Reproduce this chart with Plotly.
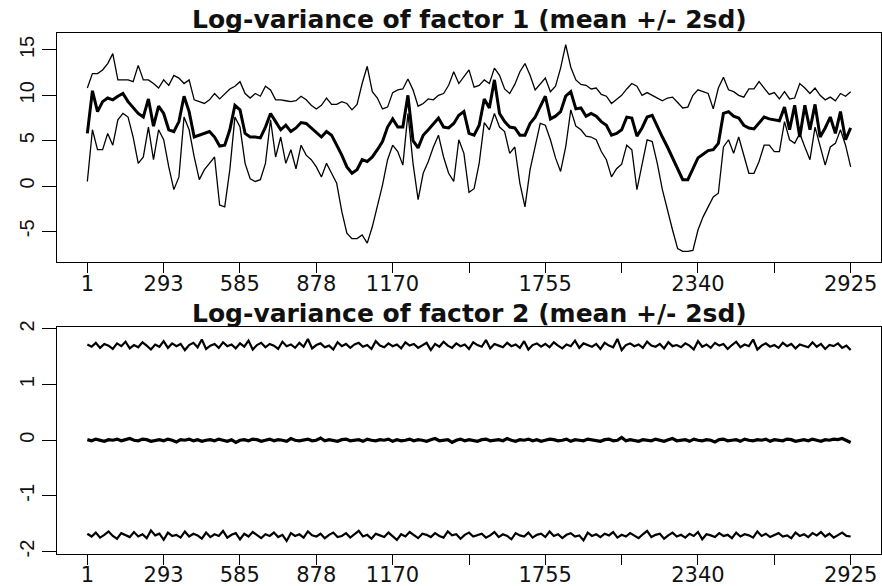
import numpy as np
import plotly.graph_objects as go

# ---------------- data ----------------
f1_upper = [10.8, 12.4, 12.4, 12.8, 13.5, 14.6, 11.7, 11.7, 11.7, 11.5,
            13.3, 11.7, 11.7, 11.3, 10.8, 11.7, 11.1, 12.2, 11.9, 11.3,
            11.7, 9.5, 9.3, 9.1, 9.5, 10.2, 9.6, 10.2, 10.7, 11.0,
            11.5, 10.2, 9.7, 10.2, 9.9, 11.0, 10.6, 9.5, 9.5, 9.4,
            9.3, 9.4, 9.9, 9.5, 8.9, 8.5, 8.9, 9.7, 9.0, 9.0,
            9.3, 9.1, 8.4, 9.0, 11.3, 13.2, 10.4, 9.7, 8.5, 8.7,
            10.3, 10.6, 10.7, 11.8, 10.6, 8.8, 9.1, 9.6, 9.5, 10.0,
            10.2, 11.1, 12.6, 11.3, 12.0, 12.8, 10.9, 11.1, 11.7, 11.3,
            13.0, 12.2, 10.7, 10.2, 11.2, 12.6, 13.5, 12.2, 10.6, 11.3,
            11.9, 10.4, 11.0, 13.0, 15.6, 13.1, 11.7, 11.2, 11.1, 10.7,
            10.8, 10.1, 9.9, 9.1, 9.6, 10.0, 10.7, 11.3, 11.0, 10.0,
            10.3, 10.0, 9.7, 9.4, 9.7, 9.8, 9.2, 8.6, 8.7, 10.0,
            10.6, 10.4, 10.2, 8.5, 10.8, 12.0, 10.6, 10.4, 10.0, 9.8,
            10.7, 10.7, 11.5, 10.8, 10.1, 10.3, 9.6, 10.4, 9.6, 9.7,
            11.3, 10.8, 10.2, 10.8, 10.0, 9.5, 9.8, 9.4, 10.2, 9.9,
            10.4]

f1_mean = [5.8, 10.5, 8.2, 9.3, 9.7, 9.5, 9.9, 10.2, 9.3, 8.7,
           8.0, 7.6, 9.6, 6.6, 8.8, 8.0, 6.2, 6.0, 7.1, 9.9,
           8.2, 5.4, 5.6, 5.8, 6.0, 5.4, 4.4, 4.5, 6.2, 8.9,
           8.4, 5.8, 5.4, 5.4, 5.3, 6.5, 8.0, 7.1, 6.2, 6.7,
           6.0, 6.4, 7.0, 6.9, 6.4, 5.8, 5.4, 6.0, 5.6, 4.5,
           3.4, 2.1, 1.4, 1.8, 2.9, 2.7, 3.2, 4.0, 4.9, 6.5,
           7.4, 6.5, 6.5, 10.0, 5.0, 4.2, 5.6, 6.2, 6.9, 7.5,
           6.5, 6.4, 6.9, 7.8, 8.2, 5.8, 5.6, 6.7, 9.6, 8.6,
           11.7, 8.0, 7.1, 6.5, 6.4, 5.6, 5.6, 6.9, 7.6, 8.7,
           9.9, 7.4, 7.7, 8.2, 9.9, 10.4, 8.5, 8.6, 7.7, 8.0,
           7.7, 7.1, 6.7, 5.6, 5.8, 6.2, 7.6, 7.5, 5.5, 6.4,
           7.6, 7.8, 6.5, 5.4, 4.3, 3.1, 1.8, 0.7, 0.7, 1.9,
           3.1, 3.5, 3.9, 4.0, 4.7, 8.0, 8.2, 7.7, 7.5, 6.7,
           6.4, 6.3, 6.9, 7.6, 7.4, 7.3, 7.2, 8.7, 6.2, 8.9,
           5.4, 8.9, 6.2, 9.0, 5.4, 6.4, 7.6, 5.8, 8.2, 5.1,
           6.4]

f1_lower = [0.5, 6.2, 4.0, 4.0, 5.8, 4.5, 7.3, 8.0, 7.6, 5.4,
            2.5, 3.2, 6.5, 2.9, 6.2, 5.1, 2.1, -0.4, 1.0, 7.6,
            6.2, 3.2, 0.7, 1.8, 2.5, 3.2, -2.1, -2.3, 1.8, 7.6,
            6.5, 2.5, 0.8, 0.5, 0.7, 2.5, 7.3, 3.2, 5.4, 2.5,
            4.0, 1.9, 4.5, 3.4, 2.9, 2.1, 1.0, 2.5, 1.4, 0.3,
            -2.8, -5.2, -5.8, -5.8, -5.4, -6.3, -4.5, -2.1, 0.1, 2.9,
            4.5, 3.8, 2.3, 8.0, 2.5, -1.5, 1.4, 2.7, 4.3, 5.6,
            3.2, 1.4, 0.5, 5.1, 3.6, -0.7, -0.3, 2.5, 7.0, 6.2,
            8.0, 6.5, 6.0, 3.6, 4.3, 0.3, -2.3, 1.8, 4.5, 6.9,
            6.7, 5.1, 3.1, 1.6, 4.3, 8.4, 6.6, 6.2, 5.5, 5.4,
            5.1, 3.8, 2.9, 1.0, 1.9, 2.4, 4.5, 4.0, -0.4, 2.5,
            5.1, 4.9, 2.5, -0.4, -2.8, -4.85, -6.9, -7.2, -7.2, -7.1,
            -4.85, -3.4, -2.3, -1.2, -0.8, 4.3, 5.1, 3.6, 5.4, 3.4,
            1.4, 1.4, 2.7, 4.5, 4.5, 3.8, 3.8, 7.1, 5.1, 4.7,
            5.8, 4.3, 2.9, 6.5, 4.3, 2.3, 4.3, 4.7, 6.2, 4.5,
            2.1]

f2_upper = [1.72, 1.68, 1.75, 1.66, 1.73, 1.70, 1.64, 1.74, 1.69, 1.77,
            1.65, 1.71, 1.67, 1.76, 1.70, 1.63, 1.72, 1.68, 1.78, 1.66,
            1.74, 1.69, 1.73, 1.62, 1.71, 1.75, 1.67, 1.81, 1.64, 1.70,
            1.73, 1.66, 1.76, 1.69, 1.72, 1.65, 1.74, 1.68, 1.79, 1.63,
            1.71, 1.75, 1.67, 1.73, 1.70, 1.64, 1.77, 1.69, 1.72, 1.66,
            1.75, 1.68, 1.82, 1.65, 1.71, 1.74, 1.67, 1.70, 1.63, 1.76,
            1.69, 1.73, 1.66, 1.72, 1.75, 1.68, 1.71, 1.64, 1.78, 1.70,
            1.67, 1.74, 1.69, 1.72, 1.65, 1.76, 1.70, 1.73, 1.66, 1.71,
            1.75, 1.62, 1.73, 1.68, 1.77, 1.70, 1.66, 1.74, 1.69, 1.72,
            1.64, 1.76, 1.71, 1.68, 1.80, 1.65, 1.73, 1.70, 1.67, 1.75,
            1.69, 1.72, 1.66, 1.78, 1.63, 1.71, 1.74, 1.68, 1.73, 1.67,
            1.76, 1.70, 1.65, 1.72, 1.69, 1.79, 1.66, 1.74, 1.71, 1.68,
            1.73, 1.64, 1.75, 1.70, 1.67, 1.82, 1.62, 1.71, 1.74, 1.69,
            1.72, 1.66, 1.77, 1.70, 1.68, 1.73, 1.65, 1.76, 1.69, 1.71,
            1.67, 1.74, 1.70, 1.63, 1.78, 1.68, 1.72, 1.66, 1.75, 1.70,
            1.73, 1.64, 1.71, 1.77, 1.67, 1.72, 1.69, 1.81, 1.63, 1.70,
            1.74, 1.68, 1.71, 1.66, 1.75, 1.69, 1.73, 1.65, 1.72, 1.70,
            1.67, 1.76, 1.68, 1.73, 1.64, 1.71, 1.69, 1.74, 1.66, 1.70,
            1.62]

f2_mean = [0.01, -0.01, 0.02, 0.00, -0.02, 0.01, 0.00, 0.02, -0.01, 0.01,
           0.03, 0.00, -0.01, 0.02, 0.01, -0.02, 0.00, 0.01, -0.01, 0.02,
           0.00, -0.03, 0.01, 0.00, 0.02, -0.01, 0.01, -0.02, 0.00, 0.01,
           -0.01, 0.02, 0.00, -0.02, 0.01, -0.04, 0.00, 0.01, -0.01, 0.02,
           0.01, -0.02, 0.00, 0.02, -0.01, 0.01, 0.00, -0.02, 0.03, 0.00,
           -0.01, 0.01, 0.02, -0.01, 0.00, 0.04, -0.01, 0.01, 0.00, -0.02,
           0.01, 0.02, -0.01, 0.00, 0.01, -0.02, 0.02, 0.00, -0.01, 0.01,
           0.00, 0.02, -0.02, 0.01, -0.01, 0.00, 0.02, -0.01, 0.01, 0.00,
           -0.02, 0.01, 0.03, -0.01, 0.00, 0.01, -0.04, 0.00, 0.02, -0.01,
           0.01, 0.00, -0.02, 0.01, 0.02, -0.01, 0.00, 0.01, -0.01, 0.03,
           0.00, -0.02, 0.01, 0.00, 0.02, -0.01, 0.01, -0.02, 0.00, 0.02,
           0.01, -0.01, 0.00, 0.02, -0.02, 0.01, 0.00, -0.01, 0.02, 0.01,
           0.00, -0.02, 0.01, 0.02, -0.01, 0.00, 0.05, -0.01, 0.01, 0.00,
           -0.02, 0.01, 0.00, -0.01, 0.02, 0.00, -0.02, 0.01, 0.03, -0.01,
           0.00, 0.01, -0.02, 0.02, 0.00, -0.01, 0.01, 0.00, -0.03, 0.01,
           0.02, -0.01, 0.00, 0.01, -0.02, 0.02, 0.00, -0.01, 0.01, 0.00,
           0.02, -0.02, 0.01, 0.00, -0.01, 0.02, 0.01, -0.02, 0.00, 0.01,
           -0.01, 0.02, 0.00, -0.02, 0.01, 0.00, 0.02, 0.01, 0.03, -0.01,
           -0.04]

f2_lower = [-1.68, -1.73, -1.66, -1.75, -1.70, -1.64, -1.72, -1.77, -1.67, -1.71,
            -1.74, -1.65, -1.73, -1.69, -1.76, -1.62, -1.71, -1.68, -1.79, -1.66,
            -1.72, -1.70, -1.75, -1.64, -1.73, -1.68, -1.71, -1.77, -1.66, -1.74,
            -1.69, -1.72, -1.63, -1.75, -1.70, -1.67, -1.78, -1.68, -1.73, -1.65,
            -1.71, -1.76, -1.69, -1.72, -1.66, -1.74, -1.70, -1.81, -1.67, -1.72,
            -1.69, -1.75, -1.64, -1.71, -1.73, -1.68, -1.76, -1.70, -1.66, -1.74,
            -1.72, -1.67, -1.75, -1.69, -1.63, -1.73, -1.70, -1.77, -1.68, -1.71,
            -1.74, -1.66, -1.72, -1.79, -1.69, -1.73, -1.65, -1.71, -1.76, -1.68,
            -1.70, -1.74, -1.67, -1.72, -1.75, -1.64, -1.71, -1.69, -1.77, -1.70,
            -1.66, -1.73, -1.70, -1.68, -1.75, -1.71, -1.65, -1.74, -1.69, -1.72,
            -1.78, -1.67, -1.71, -1.73, -1.66, -1.75, -1.70, -1.68, -1.74, -1.64,
            -1.72, -1.69, -1.76, -1.70, -1.67, -1.73, -1.71, -1.80, -1.66, -1.72,
            -1.69, -1.74, -1.68, -1.71, -1.65, -1.75, -1.70, -1.73, -1.67, -1.72,
            -1.76, -1.69, -1.63, -1.74, -1.70, -1.68, -1.77, -1.71, -1.66, -1.73,
            -1.70, -1.75, -1.68, -1.72, -1.65, -1.78, -1.69, -1.71, -1.74, -1.67,
            -1.72, -1.70, -1.76, -1.66, -1.73, -1.69, -1.71, -1.75, -1.64, -1.72,
            -1.68, -1.74, -1.70, -1.67, -1.73, -1.71, -1.76, -1.66, -1.72, -1.69,
            -1.74, -1.67, -1.71, -1.65, -1.73, -1.68, -1.75, -1.70, -1.66, -1.72,
            -1.73]

x_tick_vals = [1, 293, 585, 878, 1170, 1463, 1755, 2048, 2340, 2633, 2925]
x_tick_text = ["1", "293", "585", "878", "1170", "", "1755", "", "2340", "", "2925"]
y1_tick_vals = [-5, 0, 5, 10, 15]
y1_tick_text = ["-5", "0", "5", "10", "15"]
y2_tick_vals = [-2, -1, 0, 1, 2]
y2_tick_text = ["-2", "-1", "0", "1", "2"]
titles = ["Log-variance of factor 1 (mean +/- 2sd)",
          "Log-variance of factor 2 (mean +/- 2sd)"]
n_obs = 2925

t1 = np.linspace(1, n_obs, len(f1_mean))
t2 = np.linspace(1, n_obs, len(f2_mean))

# ---------------- figure ----------------
W, H = 882, 586
xl, xr = 56.8, 881.2
p1_top, p1_bot = 33.0, 262.0
p2_top, p2_bot = 326.7, 554.3

fig = go.Figure()
thin = dict(color="black", width=1.3)
thick = dict(color="black", width=3.0)
for y, ln in [(f1_upper, thin), (f1_lower, thin), (f1_mean, thick)]:
    fig.add_trace(go.Scatter(x=t1, y=y, mode="lines", line=ln, xaxis="x", yaxis="y",
                             hoverinfo="skip"))
thin2 = dict(color="black", width=2.2)
thick2 = dict(color="black", width=3.2)
for y, ln in [(f2_upper, thin2), (f2_lower, thin2), (f2_mean, thick2)]:
    fig.add_trace(go.Scatter(x=t2, y=y, mode="lines", line=ln, xaxis="x2", yaxis="y2",
                             hoverinfo="skip"))

xfont = dict(family="DejaVu Sans", size=21, color="#111")
yfont = dict(family="Liberation Sans, Arial", size=20, color="#111")

def xax(anchor, standoff):
    return dict(domain=[xl / W, xr / W], range=[-116, 3042], anchor=anchor,
                automargin=False,
                tickmode="array", tickvals=x_tick_vals, ticktext=x_tick_text,
                ticks="outside", ticklen=10, tickwidth=1, tickcolor="black",
                ticklabelstandoff=standoff,
                showline=True, mirror=True, linecolor="black", linewidth=1,
                showgrid=False, zeroline=False, tickfont=xfont)

def yax(anchor, dom, rng, vals, text):
    return dict(domain=dom, range=rng, anchor=anchor,
                automargin=False,
                tickmode="array", tickvals=vals, ticktext=text, tickangle=-90,
                ticks="outside", ticklen=14, tickwidth=1, tickcolor="black",
                showline=True, mirror=True, linecolor="black", linewidth=1,
                showgrid=False, zeroline=False, tickfont=yfont)

fig.update_layout(
    template="none",
    width=W, height=H,
    margin=dict(l=0, r=0, t=0, b=0, autoexpand=False),
    paper_bgcolor="white", plot_bgcolor="white",
    showlegend=False,
    xaxis=xax("y", -7),
    yaxis=yax("x", [1 - p1_bot / H, 1 - p1_top / H], [-8.38, 16.87], y1_tick_vals, y1_tick_text),
    xaxis2=xax("y2", -9),
    yaxis2=yax("x2", [1 - p2_bot / H, 1 - p2_top / H], [-2.05, 2.04], y2_tick_vals, y2_tick_text),
)

xc = (xl + xr) / 2 / W
for title, ypix in [(titles[0], 19.0), (titles[1], 313.0)]:
    fig.add_annotation(text=title, x=xc, y=1 - ypix / H, xref="paper", yref="paper",
                       xanchor="center", yanchor="middle", showarrow=False,
                       font=dict(family="DejaVu Sans", size=25, color="#111", weight="bold"))

fig.write_html("out.html",
               config={"displayModeBar": False, "staticPlot": True},
               post_script="document.body.style.margin='0';"
                           "document.body.style.overflow='hidden';")
